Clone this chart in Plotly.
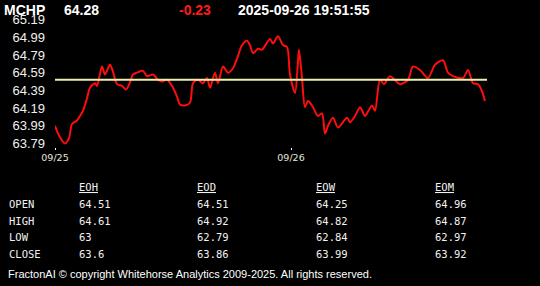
import plotly.graph_objects as go

# ---------------- data ----------------
symbol = "MCHP"
last_price = "64.28"
change = "-0.23"
timestamp = "2025-09-26 19:51:55"

bars = [0, 4, 10, 14, 17, 22, 25, 28, 32, 35, 40, 42, 47, 50, 55, 58, 62, 67, 71, 75,
        78, 82, 88, 92, 98, 103, 107, 112, 118, 122, 125, 130, 135, 138, 143, 148, 152,
        155, 160, 163, 168, 173, 178, 183, 187, 192, 195, 198, 203, 207, 215, 218, 223,
        228, 232, 235, 240, 243, 244, 247, 250, 253, 258, 263, 267, 270, 273, 278, 283,
        292, 295, 300, 305, 308, 310, 317, 320, 325, 329, 335, 345, 353, 358, 365, 373,
        380, 388, 393, 398, 408, 413, 418, 423, 427, 430]
prices = [63.99, 63.88, 63.79, 63.85, 64.01, 64.05, 64.10, 64.16, 64.30, 64.42, 64.47,
          64.44, 64.66, 64.57, 64.68, 64.60, 64.46, 64.44, 64.40, 64.48, 64.57, 64.59,
          64.61, 64.55, 64.57, 64.51, 64.49, 64.51, 64.42, 64.32, 64.23, 64.22, 64.25,
          64.47, 64.51, 64.47, 64.53, 64.42, 64.59, 64.47, 64.66, 64.59, 64.64, 64.78,
          64.90, 64.95, 64.90, 64.81, 64.86, 64.85, 64.97, 64.92, 65.00, 64.90, 64.88,
          64.57, 64.36, 64.72, 64.85, 64.53, 64.20, 64.27, 64.20, 64.10, 64.13, 63.90,
          63.99, 64.08, 63.97, 64.08, 64.03, 64.10, 64.20, 64.14, 64.10, 64.22, 64.16,
          64.51, 64.46, 64.55, 64.46, 64.51, 64.66, 64.62, 64.53, 64.68, 64.73, 64.59,
          64.55, 64.53, 64.62, 64.47, 64.46, 64.38, 64.27]
ref_level = 64.51
x_end = 432

x_tick_vals = [0, 236]
x_tick_text = ["09/25", "09/26"]
y_tick_vals = [63.79, 63.99, 64.19, 64.39, 64.59, 64.79, 64.99, 65.19]

row_labels = ["OPEN", "HIGH", "LOW", "CLOSE"]
col_headers = ["EOH", "EOD", "EOW", "EOM"]
eoh = ["64.51", "64.61", "63", "63.6"]
eod = ["64.51", "64.92", "62.79", "63.86"]
eow = ["64.25", "64.82", "62.84", "63.99"]
eom = ["64.96", "64.87", "62.97", "63.92"]
table_cols = [eoh, eod, eow, eom]

footer = "FractonAI © copyright Whitehorse Analytics 2009-2025. All rights reserved."

# ---------------- layout helpers ----------------
W, H = 540, 286
ML, MR, MT, MB = 55, 53, 14, 139
PW, PH = W - ML - MR, H - MT - MB


def px(xp):
    return (xp - ML) / PW


def py(yp):
    return 1 - (yp - MT) / PH


fig = go.Figure()
fig.add_trace(go.Scatter(x=bars, y=prices, mode="lines",
                         line=dict(color="#ff0d0d", width=2, shape="spline", smoothing=0.8),
                         hoverinfo="skip", showlegend=False))
fig.add_trace(go.Scatter(x=[0, x_end], y=[ref_level, ref_level], mode="lines",
                         line=dict(color="#f0f0a8", width=2),
                         hoverinfo="skip", showlegend=False))

ann = []
hdr_font = dict(family="Liberation Sans, Arial", size=14, color="white")
ann.append(dict(text="<b>%s</b>" % symbol, x=px(2), y=py(8), font=hdr_font))
ann.append(dict(text="<b>%s</b>" % last_price, x=px(62), y=py(8), font=hdr_font))
ann.append(dict(text="<b>%s</b>" % change, x=px(177), y=py(8),
                font=dict(family="Liberation Sans, Arial", size=14, color="#ff1a1a")))
ann.append(dict(text="<b>%s</b>" % timestamp, x=px(236), y=py(8), font=hdr_font))

mono = dict(family="DejaVu Sans Mono, monospace", size=10.5, color="#f2f2f2")
col_x = [77, 195, 314, 433]
row_y = [205, 221.7, 238.3, 255.5]
for cx, h in zip(col_x, col_headers):
    ann.append(dict(text="<u>%s</u>" % h, x=px(cx), y=py(188), font=mono))
for ry, lbl in zip(row_y, row_labels):
    ann.append(dict(text=lbl, x=px(7), y=py(ry), font=mono))
for cx, col in zip(col_x, table_cols):
    for ry, v in zip(row_y, col):
        ann.append(dict(text=v, x=px(cx), y=py(ry), font=mono))

ann.append(dict(text=footer, x=px(6), y=py(276),
                font=dict(family="Liberation Sans, Arial", size=11, color="white")))

for a in ann:
    a.update(xref="paper", yref="paper", xanchor="left", yanchor="middle",
             showarrow=False)

fig.update_layout(
    width=W, height=H,
    margin=dict(l=ML, r=MR, t=MT, b=MB, pad=0),
    paper_bgcolor="black", plot_bgcolor="black",
    annotations=ann,
    xaxis=dict(range=[0, x_end], tickvals=x_tick_vals, ticktext=x_tick_text,
               showgrid=False, zeroline=False, showline=False,
               ticks="outside", ticklen=2, tickwidth=1, tickcolor="white",
               tickfont=dict(family="DejaVu Sans, Verdana", size=9.5, color="#e8e8d8"),
               fixedrange=True),
    yaxis=dict(range=[63.75, 65.23], tickvals=y_tick_vals,
               ticktext=["%.2f" % v for v in y_tick_vals],
               showgrid=False, zeroline=False, showline=False, ticks="",
               ticklabelstandoff=9,
               tickfont=dict(family="Liberation Sans, Arial", size=13, color="#f0f0f0"),
               fixedrange=True),
)

fig.write_html("out.html", config={"displayModeBar": False})
